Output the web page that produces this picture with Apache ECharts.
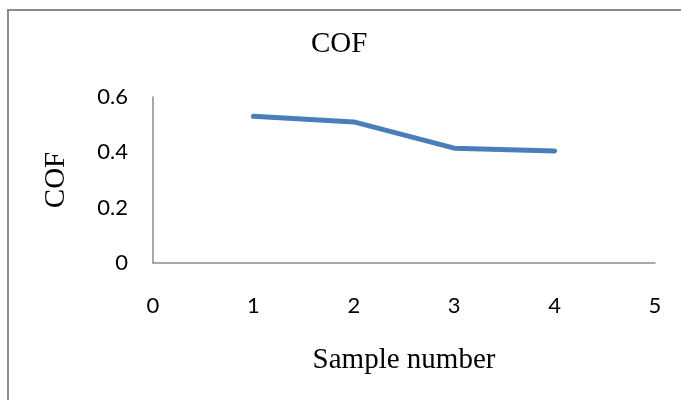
<!DOCTYPE html>
<html>
<head>
<meta charset="utf-8">
<script src="https://cdn.jsdelivr.net/npm/echarts@6/dist/echarts.min.js"></script>
<style>
  html, body { margin: 0; padding: 0; background: #fff; }
  #chart { width: 681px; height: 400px; }
</style>
</head>
<body>
<div id="chart"></div>
<script>
// sample numbers and measured COF
const sampleNumbers = [1, 2, 3, 4]
const cofValues = [0.53, 0.51, 0.415, 0.405]
const xTicks = [0, 5, 1]      // min, max, interval
const yTicks = [0, 0.6, 0.2]

const chart = echarts.init(document.getElementById('chart'))

const serif = '"Liberation Serif", "Times New Roman", serif'
const sans = 'Lato, "Open Sans", sans-serif'

chart.setOption({
  animation: false,
  title: {
    text: 'COF',
    left: 306,
    top: 25,
    textStyle: { fontFamily: serif, fontSize: 29, fontWeight: 'normal', color: '#000' },
  },
  graphic: [{
    type: 'rect',
    shape: { x: 8, y: 10, width: 700, height: 420 },
    style: { fill: 'none', stroke: '#8c8c8c', lineWidth: 2 },
    silent: true,
  }],
  grid: { left: 153, right: 26, top: 97, bottom: 137 },
  xAxis: {
    type: 'value',
    min: xTicks[0],
    max: xTicks[1],
    interval: xTicks[2],
    name: 'Sample number',
    nameLocation: 'middle',
    nameGap: 83,
    nameTextStyle: { fontFamily: serif, fontSize: 29, color: '#000' },
    axisLine: { lineStyle: { color: '#8c8c8c', width: 1.5 } },
    axisTick: { show: false },
    splitLine: { show: false },
    axisLabel: { fontFamily: sans, fontSize: 22, color: '#000', margin: 32 },
  },
  yAxis: {
    type: 'value',
    min: yTicks[0],
    max: yTicks[1],
    interval: yTicks[2],
    name: 'COF',
    nameLocation: 'middle',
    nameGap: 82,
    nameTextStyle: { fontFamily: serif, fontSize: 29, color: '#000' },
    axisLine: { show: true, lineStyle: { color: '#8c8c8c', width: 1.5 } },
    axisTick: { show: false },
    splitLine: { show: false },
    axisLabel: { fontFamily: sans, fontSize: 22, color: '#000', margin: 25 },
  },
  series: [{
    type: 'line',
    data: sampleNumbers.map((x, i) => [x, cofValues[i]]),
    showSymbol: false,
    lineStyle: { color: '#4a7ebb', width: 5, cap: 'round', join: 'round' },
  }],
})
</script>
</body>
</html>
